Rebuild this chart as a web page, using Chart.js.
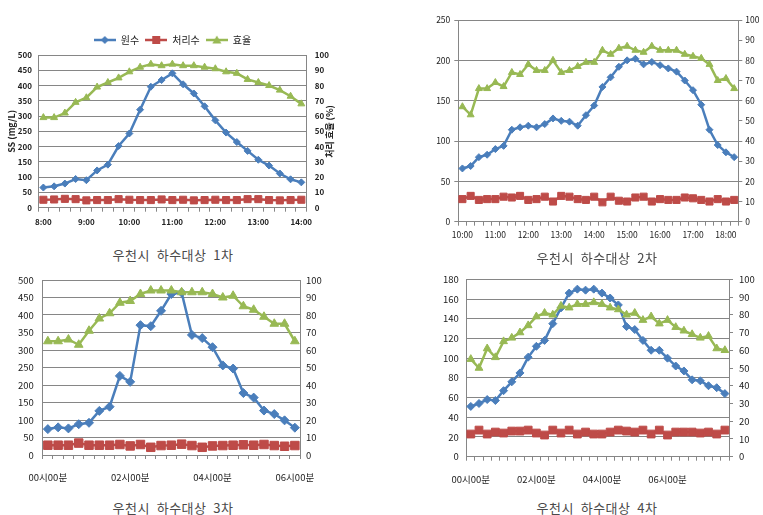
<!DOCTYPE html>
<html>
<head>
<meta charset="utf-8">
<script src="https://cdn.jsdelivr.net/npm/chart.js@4.4.0/dist/chart.umd.min.js"></script>
<style>
  body { margin: 0; background: #fff; width: 763px; height: 515px; overflow: hidden; position: relative; font-family: "Noto Sans CJK KR", sans-serif; }
  .box { position: absolute; }
  .cap { position: absolute; font-size: 13px; color: #4a4a4a; white-space: pre; transform: translate(-50%, -50%); letter-spacing: 0.5px; }
</style>
</head>
<body>
<div class="box" style="left:0;top:20px;width:345px;height:215px"><canvas id="c1"></canvas></div>
<div class="box" style="left:400px;top:0;width:363px;height:250px"><canvas id="c2"></canvas></div>
<div class="box" style="left:0;top:265px;width:345px;height:230px"><canvas id="c3"></canvas></div>
<div class="box" style="left:400px;top:265px;width:363px;height:230px"><canvas id="c4"></canvas></div>
<div class="cap" style="left:173px;top:254px">우천시  하수대상  1차</div>
<div class="cap" style="left:597px;top:257px">우천시  하수대상  2차</div>
<div class="cap" style="left:173px;top:507px">우천시  하수대상  3차</div>
<div class="cap" style="left:597px;top:507px">우천시  하수대상  4차</div>
<script>
// 1차: 8:00 - 14:00, 15분 간격
const times1 = ['8:00','8:15','8:30','8:45','9:00','9:15','9:30','9:45','10:00','10:15','10:30','10:45','11:00',
  '11:15','11:30','11:45','12:00','12:15','12:30','12:45','13:00','13:15','13:30','13:45','14:00'];
const ticks1 = ['8:00','9:00','10:00','11:00','12:00','13:00','14:00'];
const raw1 = [66,70,79,94,90,122,141,202,243,321,396,418,440,404,374,332,286,246,215,186,157,138,112,93,83];
const treated1 = [26,27,29,28,24,25,25,28,26,25,25,27,25,26,24,25,26,25,25,28,28,25,24,25,26];
const eff1 = [59,59,62,69,72,79,82,85,89,92,94,93,94,93,93,92,91,89,88,84,82,80,77,73,68];

// 2차: 10:00 - 18:15
const times2 = ['10:00','10:15','10:30','10:45','11:00','11:15','11:30','11:45','12:00','12:15','12:30','12:45',
  '13:00','13:15','13:30','13:45','14:00','14:15','14:30','14:45','15:00','15:15','15:30','15:45','16:00','16:15',
  '16:30','16:45','17:00','17:15','17:30','17:45','18:00','18:15'];
const ticks2 = ['10:00','11:00','12:00','13:00','14:00','15:00','16:00','17:00','18:00'];
const raw2 = [66,69,80,83,90,94,114,117,119,117,121,128,125,124,119,132,144,167,179,192,200,202,195,198,194,190,186,175,163,145,114,95,86,80];
const treated2 = [28,32,27,28,28,31,30,32,27,28,31,25,32,31,28,27,31,24,31,26,25,30,31,25,28,27,27,30,29,27,25,28,25,27];
const eff2 = [57,53,66,66,69,67,74,73,78,75,75,80,74,75,77,79,79,85,83,86,87,85,84,87,85,85,85,83,82,81,78,70,71,66];

// 3차: 00시00분 - 06시00분
const times3 = ['00시00분','00시15분','00시30분','00시45분','01시00분','01시15분','01시30분','01시45분','02시00분',
  '02시15분','02시30분','02시45분','03시00분','03시15분','03시30분','03시45분','04시00분','04시15분','04시30분',
  '04시45분','05시00분','05시15분','05시30분','05시45분','06시00분'];
const ticks3 = ['00시00분','02시00분','04시00분','06시00분'];
const raw3 = [74,79,76,88,92,126,138,226,209,371,368,412,460,464,343,334,308,256,247,177,164,127,117,99,78];
const treated3 = [28,28,28,34,28,28,28,30,26,30,22,27,28,31,27,22,26,27,28,29,28,30,27,25,27];
const eff3 = [65,65,66,63,71,78,81,87,88,92,94,94,94,93,93,93,92,90,91,85,83,79,75,75,65];

// 4차: 00시00분 - 07시45분
const times4 = ['00시00분','00시15분','00시30분','00시45분','01시00분','01시15분','01시30분','01시45분','02시00분',
  '02시15분','02시30분','02시45분','03시00분','03시15분','03시30분','03시45분','04시00분','04시15분','04시30분',
  '04시45분','05시00분','05시15분','05시30분','05시45분','06시00분','06시15분','06시30분','06시45분','07시00분',
  '07시15분','07시30분','07시45분'];
const ticks4 = ['00시00분','02시00분','04시00분','06시00분'];
const raw4 = [51,54,58,57,67,76,85,101,112,118,135,151,166,170,169,170,166,161,154,132,129,118,108,108,100,92,87,78,77,72,70,64];
const treated4 = [23,27,23,25,24,26,26,27,24,22,27,24,27,23,25,23,23,25,27,26,25,27,23,27,22,25,25,25,24,25,23,27];
const eff4 = [55,50,61,56,65,67,70,74,79,81,80,85,84,86,86,87,86,84,83,80,81,77,79,75,77,73,71,69,67,68,61,60];

const blue = '#4A7EBB', red = '#BE4B48', green = '#98B954';
const axisGray = '#868686';
const FONT = '"Noto Sans CJK KR", sans-serif';

// excel-like legend key: short line with the marker on it
function legendIcon(color, shape) {
  const c = document.createElement('canvas');
  c.width = 22; c.height = 10;
  const g = c.getContext('2d');
  g.strokeStyle = color; g.fillStyle = color; g.lineWidth = 2.5;
  g.beginPath(); g.moveTo(0, 5); g.lineTo(22, 5); g.stroke();
  g.beginPath();
  if (shape === 'rectRot') { g.moveTo(11, 1); g.lineTo(15, 5); g.lineTo(11, 9); g.lineTo(7, 5); }
  else if (shape === 'rect') { g.rect(7, 1, 8, 8); }
  else { g.moveTo(11, 0.5); g.lineTo(15.5, 8.5); g.lineTo(6.5, 8.5); }
  g.closePath(); g.fill();
  return c;
}
const icons = [legendIcon(blue, 'rectRot'), legendIcon(red, 'rect'), legendIcon(green, 'triangle')];

// right-hand axis title, read bottom to top like the left one
const rightTitle = {
  id: 'rightTitle',
  afterDraw(chart, args, opts) {
    if (!opts.text) return;
    const { ctx, chartArea } = chart;
    ctx.save();
    ctx.translate(opts.x, (chartArea.top + chartArea.bottom) / 2);
    ctx.rotate(-Math.PI / 2);
    ctx.font = 'bold 9px ' + FONT;
    ctx.fillStyle = '#222';
    ctx.textAlign = 'center';
    ctx.textBaseline = 'middle';
    ctx.fillText(opts.text, 0, 0);
    ctx.restore();
  }
};

function makeChart(id, o) {
  const tickFont = { family: FONT, size: o.fs, weight: o.bold ? 'bold' : 'normal' };
  return new Chart(document.getElementById(id), {
    type: 'line',
    data: {
      labels: o.labels,
      datasets: [
        { label: '원수', data: o.raw, yAxisID: 'y', order: 3, borderColor: blue, backgroundColor: blue,
          pointStyle: 'rectRot', pointRadius: o.r, borderWidth: 2.5, pointBorderWidth: 1 },
        { label: '처리수', data: o.treated, yAxisID: 'y', order: 2, borderColor: red, backgroundColor: red,
          pointStyle: 'rect', pointRadius: o.r + 1.5, borderWidth: 2.5, pointBorderWidth: 1 },
        { label: '효율', data: o.eff, yAxisID: 'y1', order: 1, borderColor: green, backgroundColor: green,
          pointStyle: 'triangle', pointRadius: o.r + 0.5, borderWidth: 2.5, pointBorderWidth: 1 }
      ]
    },
    plugins: [rightTitle],
    options: {
      responsive: true,
      maintainAspectRatio: false,
      animation: false,
      layout: { padding: o.pad },
      plugins: {
        legend: {
          display: !!o.legend,
          labels: {
            usePointStyle: true, pointStyleWidth: 22, color: '#222', padding: 6,
            font: { family: FONT, size: 10 },
            generateLabels(chart) {
              const items = Chart.defaults.plugins.legend.labels.generateLabels(chart);
              items.forEach(it => { it.pointStyle = icons[it.datasetIndex]; });
              return items;
            },
            sort: (a, b) => a.datasetIndex - b.datasetIndex
          }
        },
        tooltip: { enabled: false },
        rightTitle: o.rightTitle || {}
      },
      scales: {
        x: {
          offset: true,
          grid: { offset: true, drawOnChartArea: false, tickLength: 4, color: axisGray },
          border: { color: axisGray },
          ticks: {
            autoSkip: false, maxRotation: 0, padding: o.xPad, color: '#222', font: tickFont,
            callback(v) { const l = this.getLabelForValue(v); return o.shown.includes(l) ? l : ''; }
          },
          afterFit: s => { s.height = o.xH; }
        },
        y: {
          position: 'left', min: 0, max: o.yMax,
          ticks: { stepSize: o.yStep, padding: o.lPad, color: '#222', font: tickFont },
          grid: { color: axisGray, drawTicks: !!o.lTicks, tickLength: 4 },
          border: { color: axisGray },
          title: o.leftTitle ? { display: true, text: o.leftTitle, color: '#222', padding: { top: 6, bottom: 0 },
            font: { family: FONT, size: 9, weight: 'bold' } } : { display: false },
          afterFit: s => { s.width = o.lW; }
        },
        y1: {
          position: 'right', min: 0, max: 100,
          ticks: { stepSize: 10, padding: o.rPad, color: '#222', font: tickFont },
          grid: { drawOnChartArea: false, drawTicks: !!o.rTicks, tickLength: 4, color: axisGray },
          border: { color: axisGray },
          afterFit: s => { s.width = o.rW; }
        }
      }
    }
  });
}

makeChart('c1', {
  labels: times1, shown: ticks1, raw: raw1, treated: treated1, eff: eff1,
  yMax: 500, yStep: 50, fs: 8, bold: true, r: 3.5, legend: true,
  pad: { top: 9, left: 0, right: 0, bottom: 0 }, lW: 38, rW: 38.3, xH: 27.3,
  xPad: 5, lPad: 6, rPad: 8, leftTitle: 'SS (mg/L)',
  rightTitle: { text: '처리 효율 (%)', x: 330 }
});

makeChart('c2', {
  labels: times2, shown: ticks2, raw: raw2, treated: treated2, eff: eff2,
  yMax: 250, yStep: 50, fs: 8.5, r: 3.5,
  pad: { top: 20, left: 0, right: 0, bottom: 0 }, lW: 58.3, rW: 24.7, xH: 28.3,
  xPad: 4, lPad: 4, rPad: 3, lTicks: true, rTicks: true
});

makeChart('c3', {
  labels: times3, shown: ticks3, raw: raw3, treated: treated3, eff: eff3,
  yMax: 500, yStep: 50, fs: 9.5, r: 4.5,
  pad: { top: 15, left: 0, right: 0, bottom: 0 }, lW: 42.7, rW: 45, xH: 40,
  xPad: 13, lPad: 9, rPad: 6
});

makeChart('c4', {
  labels: times4, shown: ticks4, raw: raw4, treated: treated4, eff: eff4,
  yMax: 180, yStep: 20, fs: 9.5, r: 4,
  pad: { top: 14.3, left: 0, right: 0, bottom: 0 }, lW: 66.7, rW: 34, xH: 38.3,
  xPad: 12.6, lPad: 8, rPad: 6, rTicks: true
});
</script>
</body>
</html>
